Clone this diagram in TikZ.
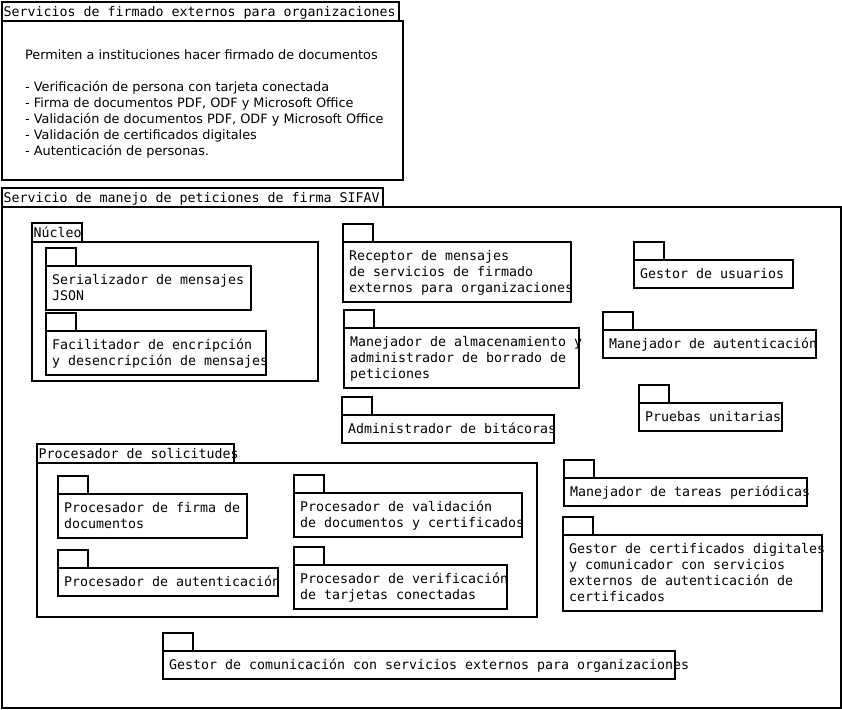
\documentclass[tikz,border=0pt]{standalone}
\usepackage{fontspec}
\newfontfamily\monofnt{DejaVu Sans Mono}
\newfontfamily\sansfnt{DejaVu Sans}
\tikzset{
  box/.style={draw, line width=1.7pt, inner sep=0pt, outer sep=0pt, anchor=north west},
  ptext/.style={inner sep=0pt, anchor=north west, align=left, font=\monofnt\fontsize{13.29}{16}\selectfont},
  ntext/.style={inner sep=0pt, anchor=north west, align=left, font=\sansfnt\fontsize{12.85}{16}\selectfont},
}
\newcommand\fl{\rule{0pt}{13pt}}
% name, x1, tabtop, tabx2, bodytop, bodyx2, bodyy2, text
\newcommand\pkg[8]{%
  \node[box, minimum width={(#4-#2)*1pt}, minimum height={(#5-#3)*1pt}] (#1t) at (#2,#3) {};
  \node[box, minimum width={(#6-#2)*1pt}, minimum height={(#7-#5)*1pt}] (#1) at (#2,#5) {};
  \node[ptext] (#1l) at (#2+6,#5+18-13) {\fl#8};
}
\newcommand\bigpkg[8]{%
  \node[box, minimum width={(#4-#2)*1pt}, minimum height={(#5-#3)*1pt}] (#1t) at (#2,#3) {};
  \node[box, minimum width={(#6-#2)*1pt}, minimum height={(#7-#5)*1pt}] (#1) at (#2,#5) {};
  \node[ptext] (#1l) at (#2+1.5,#3+14.5-13) {\fl#8};
}
\begin{document}
\begin{tikzpicture}[x=1pt, y=-1pt]
\useasboundingbox (0,0) rectangle (842,709);
\fill[white] (0,0) rectangle (842,709);

\bigpkg{ext}{2}{2}{399}{21}{403}{180}{Servicios de firmado externos para organizaciones}
\node[ntext] (note) at (25,59-13) {\fl Permiten a instituciones hacer firmado de documentos\\[16pt]
- Verificación de persona con tarjeta conectada\\
- Firma de documentos PDF, ODF y Microsoft Office\\
- Validación de documentos PDF, ODF y Microsoft Office\\
- Validación de certificados digitales\\
- Autenticación de personas.};

\bigpkg{sifav}{2}{188}{383}{207}{841}{708}{Servicio de manejo de peticiones de firma SIFAV}
\bigpkg{nucleo}{32}{223}{82}{242}{318}{381}{Núcleo}
\pkg{ser}{46}{248}{76}{266}{251}{310}{Serializador de mensajes\\JSON}
\pkg{fac}{46}{313}{76}{331}{266}{375}{Facilitador de encripción\\y desencripción de mensajes}
\pkg{rec}{343}{224}{373}{242}{571}{302}{Receptor de mensajes\\de servicios de firmado\\externos para organizaciones}
\pkg{alm}{344}{310}{374}{328}{579}{388}{Manejador de almacenamiento y\\administrador de borrado de\\peticiones}
\pkg{bit}{342}{397}{372}{415}{554}{443}{Administrador de bitácoras}
\pkg{usu}{634}{242}{664}{260}{793}{288}{Gestor de usuarios}
\pkg{aut}{603}{312}{633}{330}{816}{358}{Manejador de autenticación}
\pkg{pru}{639}{385}{669}{403}{782}{431}{Pruebas unitarias}
\pkg{tar}{564}{460}{594}{478}{807}{506}{Manejador de tareas periódicas}
\pkg{cer}{563}{517}{593}{535}{822}{611}{Gestor de certificados digitales\\y comunicador con servicios\\externos de autenticación de\\certificados}
\bigpkg{sol}{37}{444}{234}{463}{537}{617}{Procesador de solicitudes}
\pkg{pfi}{58}{476}{88}{494}{247}{538}{Procesador de firma de\\documentos}
\pkg{pau}{58}{550}{88}{568}{278}{596}{Procesador de autenticación}
\pkg{pva}{294}{475}{324}{493}{522}{537}{Procesador de validación\\de documentos y certificados}
\pkg{pve}{294}{547}{324}{565}{507}{609}{Procesador de verificación\\de tarjetas conectadas}
\pkg{gco}{163}{633}{193}{651}{675}{679}{Gestor de comunicación con servicios externos para organizaciones}
\end{tikzpicture}
\end{document}
